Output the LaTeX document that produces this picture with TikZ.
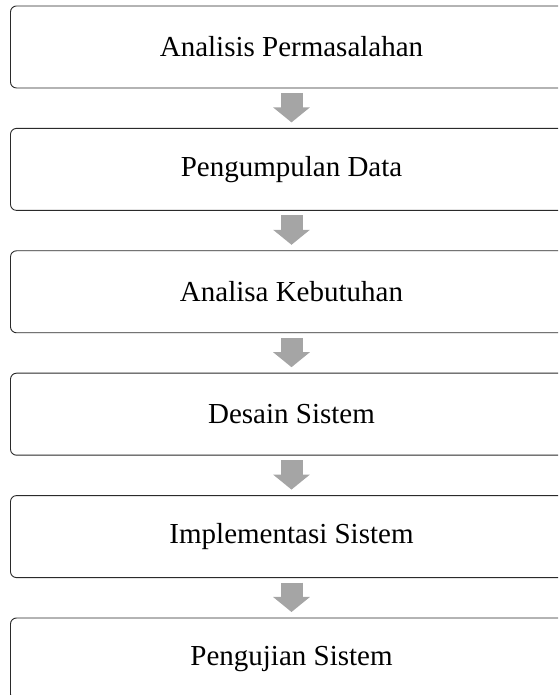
\documentclass[tikz,border=0pt]{standalone}
\usepackage{fontspec}
\setmainfont{Liberation Serif}
\usetikzlibrary{arrows.meta,positioning}
\definecolor{ink}{HTML}{2A2A2A}
\definecolor{stepgray}{HTML}{A5A5A5}
\tikzset{
  stage/.style={rectangle,rounded corners=6pt,draw=ink,line width=0.9pt,fill=white,align=center,
    minimum width=562pt,minimum height=82pt,inner sep=0pt,outer sep=0pt,
    font=\fontsize{29}{34}\selectfont},
  flowarrow/.style={-{Triangle[width=36pt,length=15pt]},line width=22pt,stepgray}
}

\begin{document}
\begin{tikzpicture}[x=1pt,y=1pt,node distance=40.4pt]
  \useasboundingbox (0,0) rectangle (558,695);
  \clip (0,0) rectangle (558,695);
  \node[stage] (s1) at (291.5,648) {Analisis Permasalahan};
  \node[stage,below=of s1] (s2) {Pengumpulan Data};
  \node[stage,below=of s2] (s3) {Analisa Kebutuhan};
  \node[stage,below=of s3] (s4) {Desain Sistem};
  \node[stage,below=of s4] (s5) {Implementasi Sistem};
  \node[stage,below=of s5] (s6) {Pengujian Sistem};
  \foreach \a/\b in {s1/s2,s2/s3,s3/s4,s4/s5,s5/s6}
    \draw[flowarrow] ([yshift=-5pt]\a.south) -- ([yshift=6pt]\b.north);
\end{tikzpicture}
\end{document}
